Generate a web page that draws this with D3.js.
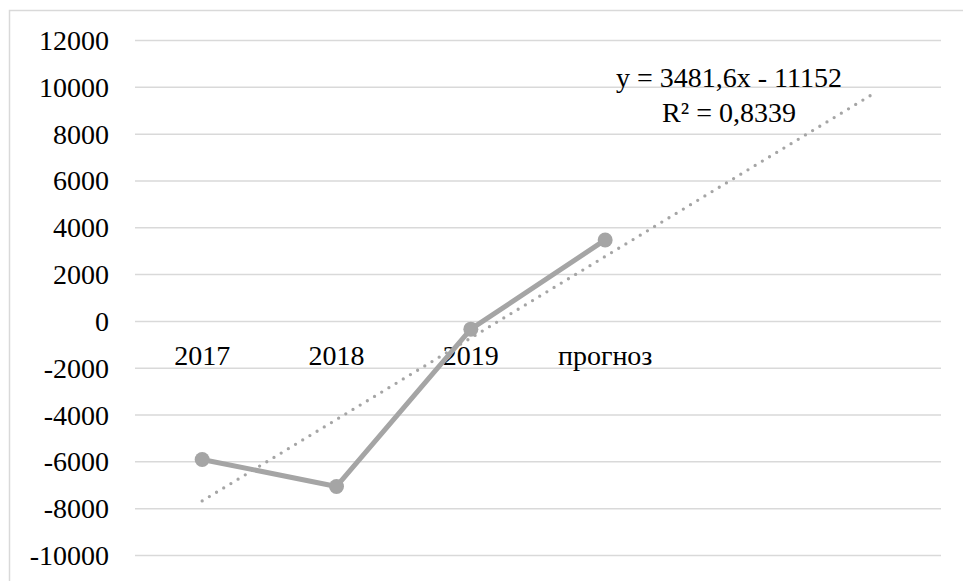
<!DOCTYPE html>
<html>
<head>
<meta charset="utf-8">
<script src="https://cdn.jsdelivr.net/npm/d3@7"></script>
<style>
  html, body { margin: 0; padding: 0; background: #fff; }
  svg { display: block; }
  text { font-family: "Liberation Serif", "Times New Roman", serif; fill: #000; }
</style>
</head>
<body>
<svg id="chart" width="963" height="581"></svg>
<script>
// Series data
const categories = ["2017", "2018", "2019", "прогноз"];
const values = [-5900, -7050, -330, 3480];

// Linear trend (with two forecast periods)
const trendSlope = 3481.6;
const trendIntercept = -11152;
const trendForward = 2;
const trendLabel = ["y = 3481,6x - 11152", "R² = 0,8339"];

// Value axis
const yTicks = [-10000, -8000, -6000, -4000, -2000, 0, 2000, 4000, 6000, 8000, 10000, 12000];

const svg = d3.select("#chart");
const W = 963, H = 581;
const plot = { left: 135, right: 941, top: 40.5, bottom: 555.5 };
const grey = "#a5a5a5";
const gridColor = "#d9d9d9";
const fontSize = 28;

// Chart frame
svg.append("rect")
  .attr("x", 9.5).attr("y", 10.5)
  .attr("width", W).attr("height", H)
  .attr("fill", "#fff")
  .attr("stroke", gridColor).attr("stroke-width", 1.5);

// Positions 1..N including the forecast periods of the trendline
const nSlots = categories.length + trendForward;
const slots = d3.range(1, nSlots + 1);
const x = d3.scaleBand().domain(slots).range([plot.left, plot.right]).padding(0);
const xc = i => x(i) + x.bandwidth() / 2;

const y = d3.scaleLinear().domain([-10000, 12000]).range([plot.bottom, plot.top]);

// Gridlines
svg.append("g")
  .selectAll("line")
  .data(yTicks)
  .join("line")
  .attr("x1", plot.left).attr("x2", plot.right)
  .attr("y1", d => y(d)).attr("y2", d => y(d))
  .attr("stroke", gridColor).attr("stroke-width", 1.5);

// Y axis labels (plain hyphen for negatives)
const yAxis = d3.axisLeft(y).tickValues(yTicks).tickSize(0).tickPadding(0)
  .tickFormat(d => String(d));
const gy = svg.append("g").attr("transform", "translate(109,0)").call(yAxis);
gy.select(".domain").remove();
gy.selectAll("text")
  .attr("font-family", "Liberation Serif, Times New Roman, serif")
  .attr("font-size", fontSize)
  .attr("fill", "#000")
  .attr("dy", "0.32em");

// Category labels, sitting under the zero line
const xAxis = d3.axisBottom(x).tickValues(d3.range(1, categories.length + 1))
  .tickSize(0).tickPadding(0)
  .tickFormat(i => categories[i - 1]);
const gx = svg.append("g").attr("transform", `translate(0,${y(0)})`).call(xAxis);
gx.select(".domain").remove();
gx.selectAll("text")
  .attr("font-family", "Liberation Serif, Times New Roman, serif")
  .attr("font-size", fontSize)
  .attr("fill", "#000")
  .attr("y", 0)
  .attr("dy", 44);

// Trendline (dotted)
const trendPts = [1, nSlots].map(i => [xc(i), y(trendSlope * i + trendIntercept)]);
svg.append("path")
  .attr("d", d3.line()(trendPts))
  .attr("fill", "none")
  .attr("stroke", grey)
  .attr("stroke-width", 3.3)
  .attr("stroke-linecap", "round")
  .attr("stroke-dasharray", "0 8.4");

// Series line
const pts = values.map((v, i) => [xc(i + 1), y(v)]);
svg.append("path")
  .attr("d", d3.line()(pts))
  .attr("fill", "none")
  .attr("stroke", grey)
  .attr("stroke-width", 5)
  .attr("stroke-linejoin", "round");

svg.append("g")
  .selectAll("circle")
  .data(pts)
  .join("circle")
  .attr("cx", d => d[0]).attr("cy", d => d[1])
  .attr("r", 7.5)
  .attr("fill", grey);

// Trendline equation
svg.append("g")
  .selectAll("text")
  .data(trendLabel)
  .join("text")
  .attr("x", 729)
  .attr("y", (d, i) => 87 + i * 34.5)
  .attr("text-anchor", "middle")
  .attr("font-size", fontSize)
  .text(d => d);
</script>
</body>
</html>
